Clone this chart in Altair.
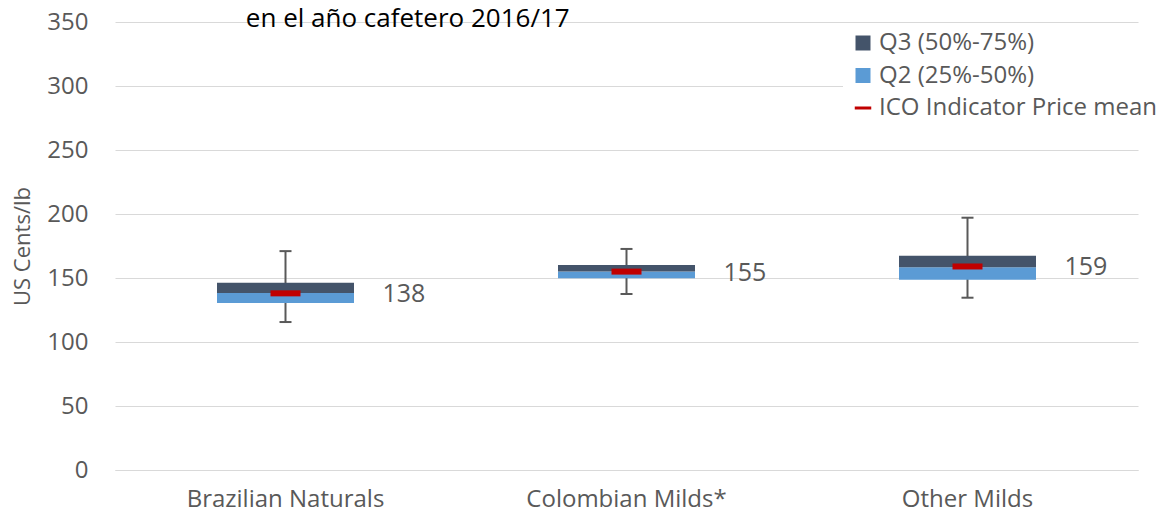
import altair as alt
import pandas as pd

categories = ["Brazilian Naturals", "Colombian Milds*", "Other Milds"]
q1 = [130.5, 149.8, 148.7]
median = [138.3, 155.0, 158.4]
q3 = [146.2, 160.2, 167.4]
whisker_low = [115.6, 137.5, 134.6]
whisker_high = [171.0, 172.7, 197.1]
mean_price = [138, 155, 159]
mean_label = ["138", "155", "159"]
legend_labels = ["Q3 (50%-75%)", "Q2 (25%-50%)", "ICO Indicator Price mean"]
legend_colors = ["#44546a", "#5b9bd5", "#c00000"]

FONT = "Open Sans"
GREY = "#595959"

df = pd.DataFrame({
    "category": categories,
    "q1": q1,
    "median": median,
    "q3": q3,
    "lo": whisker_low,
    "hi": whisker_high,
    "mean": mean_price,
    "label": mean_label,
})
df_leg = pd.DataFrame({"category": [categories[0]] * 3, "series": legend_labels, "v": [None] * 3})

x_enc = alt.X(
    "category:N",
    sort=categories,
    scale=alt.Scale(type="band", domain=categories, paddingInner=0, paddingOuter=0),
    axis=alt.Axis(
        title=None, labelAngle=0, ticks=False, grid=False, labelFontSize=24,
        labelColor=GREY, labelFont=FONT, labelPadding=17, labelLimit=0,
        domainColor="#d9d9d9",
    ),
)
y_scale = alt.Scale(domain=[0, 350], nice=False, zero=True)
y_axis = alt.Axis(
    title="US Cents/lb", values=list(range(0, 351, 50)), grid=True, gridColor="#d9d9d9",
    domain=False, ticks=False, labelFontSize=24, labelColor=GREY, labelFont=FONT,
    labelPadding=27, titleFontSize=22, titleColor=GREY, titleFont=FONT,
    titleFontWeight="normal", titlePadding=12,
)

base = alt.Chart(df)

whisker = base.mark_rule(color=GREY, strokeWidth=2, opacity=1).encode(
    x=x_enc, y=alt.Y("lo:Q", scale=y_scale, axis=y_axis), y2="hi:Q"
)
cap_lo = base.mark_tick(color=GREY, size=12, thickness=2, opacity=1).encode(x=x_enc, y="lo:Q")
cap_hi = base.mark_tick(color=GREY, size=12, thickness=2, opacity=1).encode(x=x_enc, y="hi:Q")
box_q2 = base.mark_bar(size=137, color="#5b9bd5", opacity=1).encode(x=x_enc, y="q1:Q", y2="median:Q")
box_q3 = base.mark_bar(size=137, color="#44546a", opacity=1).encode(x=x_enc, y="median:Q", y2="q3:Q")
mean_tick = base.mark_tick(color="#c00000", size=30, thickness=6, opacity=1).encode(x=x_enc, y="mean:Q")
labels = base.mark_text(
    align="left", baseline="middle", dx=97, dy=1, fontSize=25, color=GREY, font=FONT
).encode(x=x_enc, y="mean:Q", text="label:N")

sq = "M-1,-1H1V1H-1Z"
ln = "M-1.1,-0.2H1.1V0.2H-1.1Z"
leg = alt.Legend(
    title=None, orient="none", legendX=728, legendY=1, labelFontSize=24, labelFont=FONT,
    labelColor=GREY, symbolSize=225, symbolStrokeWidth=0, symbolOpacity=1, rowPadding=8.5,
    padding=8, fillColor="white", labelOffset=4, labelLimit=400,
)
legend_layer = alt.Chart(df_leg).mark_point(filled=True, opacity=1).encode(
    x=x_enc,
    y=alt.Y("v:Q"),
    color=alt.Color("series:N", scale=alt.Scale(domain=legend_labels, range=legend_colors), legend=leg),
    shape=alt.Shape("series:N", scale=alt.Scale(domain=legend_labels, range=[sq, sq, ln]), legend=leg),
)

chart = alt.layer(
    whisker, cap_lo, cap_hi, box_q2, box_q3, mean_tick, labels, legend_layer
).properties(
    width=1023,
    height=448,
    title=alt.TitleParams(
        text="en el año cafetero 2016/17", anchor="start", dx=234, fontSize=26,
        font=FONT, color="black", fontWeight="normal", offset=-22,
    ),
    autosize=alt.AutoSizeParams(type="none"),
    padding={"left": 107, "top": 14, "right": 23, "bottom": 42},
).configure(background="white").configure_view(stroke=None)

chart.save("out.html", embed_options={"renderer": "svg", "actions": False})
